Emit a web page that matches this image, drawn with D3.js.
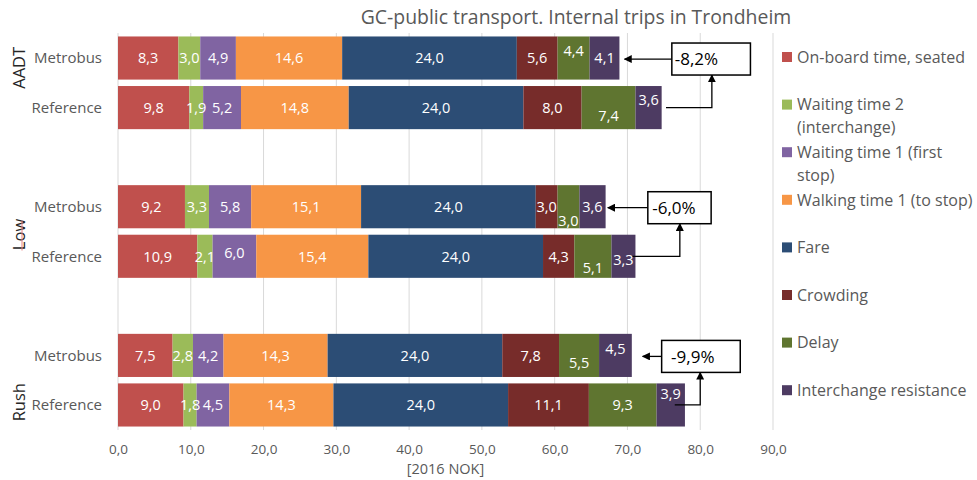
<!DOCTYPE html>
<html>
<head>
<meta charset="utf-8">
<script src="https://cdn.jsdelivr.net/npm/d3@7"></script>
<style>
  body { margin: 0; background: #fff; }
  svg { font-family: "Open Sans", Lato, sans-serif; }
</style>
</head>
<body>
<div id="chart"></div>
<script>
const width = 977;
const height = 480;

const components = [
  "On-board time, seated",
  "Waiting time 2 (interchange)",
  "Waiting time 1 (first stop)",
  "Walking time 1 (to stop)",
  "Fare",
  "Crowding",
  "Delay",
  "Interchange resistance"
];
const groups = ["AADT", "Low", "Rush"];
const scenarios = ["Metrobus", "Reference"];

const aadtMetrobus = [8.3, 3.0, 4.9, 14.6, 24.0, 5.6, 4.4, 4.1];
const aadtReference = [9.8, 1.9, 5.2, 14.8, 24.0, 8.0, 7.4, 3.6];
const lowMetrobus = [9.2, 3.3, 5.8, 15.1, 24.0, 3.0, 3.0, 3.6];
const lowReference = [10.9, 2.1, 6.0, 15.4, 24.0, 4.3, 5.1, 3.3];
const rushMetrobus = [7.5, 2.8, 4.2, 14.3, 24.0, 7.8, 5.5, 4.5];
const rushReference = [9.0, 1.8, 4.5, 14.3, 24.0, 11.1, 9.3, 3.9];

const changeLabels = ["-8,2%", "-6,0%", "-9,9%"];

const colors = ["#C0504D", "#9BBB59", "#8064A2", "#F79646", "#2C4D75", "#772C2A", "#5F7530", "#4D3B62"];
const legendLines = [
  ["On-board time, seated"],
  ["Waiting time 2", "(interchange)"],
  ["Waiting time 1 (first", "stop)"],
  ["Walking time 1 (to stop)"],
  ["Fare"],
  ["Crowding"],
  ["Delay"],
  ["Interchange resistance"]
];

const rows = [
  { group: "AADT", scenario: "Metrobus", values: aadtMetrobus },
  { group: "AADT", scenario: "Reference", values: aadtReference },
  { group: "Low", scenario: "Metrobus", values: lowMetrobus },
  { group: "Low", scenario: "Reference", values: lowReference },
  { group: "Rush", scenario: "Metrobus", values: rushMetrobus },
  { group: "Rush", scenario: "Reference", values: rushReference }
];

// excel moved some overlapping labels up or down a bit
const labelNudge = {
  "AADT|Metrobus|6": -7, "AADT|Reference|6": 8, "AADT|Reference|7": -8,
  "Low|Metrobus|6": 14, "Low|Reference|2": -4, "Low|Reference|6": 11, "Low|Reference|7": 3,
  "Rush|Metrobus|6": 7, "Rush|Metrobus|7": -7, "Rush|Reference|7": -11
};
const groupLabelShift = { AADT: -15, Low: 3, Rush: 22 };

// hand drawn callouts, in axis units
const callouts = [
  { boxX: 76.1, boxW: 10.8, textX: 76.5, tipX: 69.6, elbowX: 81.6, startX: 75.3 },
  { boxX: 72.8, boxW: 8.7, textX: 73.4, tipX: 67.3, elbowX: 77.2, startX: 70.7 },
  { boxX: 74.7, boxW: 10.8, textX: 76.0, tipX: 72.1, elbowX: 80.0, startX: 76.5 }
];

const rowKeys = [];
groups.forEach((g, i) => {
  scenarios.forEach(s => rowKeys.push(g + "|" + s));
  if (i < groups.length - 1) rowKeys.push("gap" + i);
});

const x = d3.scaleLinear().domain([0, 90]).range([118, 773]);
const y = d3.scaleBand().domain(rowKeys).range([33, 430]).paddingInner(0.13).paddingOuter(0.07);
const color = d3.scaleOrdinal().domain(components).range(colors);
const fmt = v => d3.format(".1f")(v).replace(".", ",");

const svg = d3.select("#chart").append("svg")
  .attr("width", width)
  .attr("height", height);

// grid
svg.append("g")
  .selectAll("line")
  .data(x.ticks(9))
  .join("line")
  .attr("x1", d => x(d)).attr("x2", d => x(d))
  .attr("y1", 33).attr("y2", 430)
  .attr("stroke", "#d9d9d9")
  .attr("stroke-width", 1);

const xAxis = svg.append("g")
  .attr("transform", "translate(0,430)")
  .call(d3.axisBottom(x).ticks(9).tickFormat(fmt).tickSize(0).tickPadding(14));
xAxis.select(".domain").remove();
xAxis.selectAll("text")
  .attr("fill", "#595959")
  .style("font-family", "'Open Sans', sans-serif")
  .style("font-size", "13.5px");

svg.append("text")
  .attr("x", (x(0) + x(90)) / 2)
  .attr("y", 474)
  .attr("text-anchor", "middle")
  .attr("fill", "#595959")
  .style("font-size", "14.5px")
  .text("[2016 NOK]");

svg.append("text")
  .attr("x", 576)
  .attr("y", 24)
  .attr("text-anchor", "middle")
  .attr("fill", "#595959")
  .style("font-size", "19.4px")
  .text("GC-public transport. Internal trips in Trondheim");

// stacked bars
const segs = [];
rows.forEach(r => {
  let acc = 0;
  r.values.forEach((v, i) => {
    segs.push({ row: r, key: r.group + "|" + r.scenario, i, x0: acc, x1: acc + v, v });
    acc += v;
  });
});

svg.append("g")
  .selectAll("rect")
  .data(segs)
  .join("rect")
  .attr("x", d => x(d.x0))
  .attr("y", d => y(d.key))
  .attr("width", d => x(d.x1) - x(d.x0))
  .attr("height", y.bandwidth())
  .attr("fill", d => color(components[d.i]));

svg.append("g")
  .selectAll("text")
  .data(segs)
  .join("text")
  .attr("x", d => x((d.x0 + d.x1) / 2))
  .attr("y", d => y(d.key) + y.bandwidth() / 2 + (labelNudge[d.key + "|" + d.i] || 0))
  .attr("dy", "0.36em")
  .attr("text-anchor", "middle")
  .attr("fill", "#fff")
  .style("font-size", "14.5px")
  .text(d => fmt(d.v));

// category labels
svg.append("g")
  .selectAll("text")
  .data(rows)
  .join("text")
  .attr("x", 102)
  .attr("y", d => y(d.group + "|" + d.scenario) + y.bandwidth() / 2)
  .attr("dy", "0.36em")
  .attr("text-anchor", "end")
  .attr("fill", "#595959")
  .style("font-size", "15px")
  .text(d => d.scenario);

svg.append("g")
  .selectAll("text")
  .data(groups)
  .join("text")
  .attr("transform", g => {
    const cy = (y(g + "|Metrobus") + y(g + "|Reference") + y.bandwidth()) / 2 + groupLabelShift[g];
    return `translate(25,${cy}) rotate(-90)`;
  })
  .attr("text-anchor", "middle")
  .attr("fill", "#262626")
  .style("font-size", "16.5px")
  .text(g => g);

// spell-check squiggle under "Low"
const lowY = (y("Low|Metrobus") + y("Low|Reference") + y.bandwidth()) / 2 + groupLabelShift.Low;
svg.append("line")
  .attr("x1", 22).attr("x2", 22)
  .attr("y1", lowY - 14).attr("y2", lowY + 16)
  .attr("stroke", "#e88080")
  .attr("stroke-width", 1);

// callouts
svg.append("defs").append("marker")
  .attr("id", "head")
  .attr("viewBox", "0 0 10 10")
  .attr("refX", 9).attr("refY", 5)
  .attr("markerWidth", 8).attr("markerHeight", 8)
  .attr("markerUnits", "userSpaceOnUse")
  .attr("orient", "auto")
  .append("path")
  .attr("d", "M0,0L10,5L0,10Z")
  .attr("fill", "#000");

const boxH = 32;
callouts.forEach((c, i) => {
  const g = groups[i];
  const my = y(g + "|Metrobus") + y.bandwidth() / 2 + 1;
  const ry = y(g + "|Reference") + y.bandwidth() / 2;
  const layer = svg.append("g");

  layer.append("line")
    .attr("x1", x(c.boxX)).attr("x2", x(c.tipX))
    .attr("y1", my).attr("y2", my)
    .attr("stroke", "#000").attr("stroke-width", 1.3)
    .attr("marker-end", "url(#head)");

  layer.append("path")
    .attr("d", `M${x(c.startX)},${ry}H${x(c.elbowX)}V${my + boxH / 2}`)
    .attr("fill", "none")
    .attr("stroke", "#000").attr("stroke-width", 1.3)
    .attr("marker-end", "url(#head)");

  layer.append("rect")
    .attr("x", x(c.boxX)).attr("y", my - boxH / 2)
    .attr("width", x(c.boxX + c.boxW) - x(c.boxX)).attr("height", boxH)
    .attr("fill", "#fff")
    .attr("stroke", "#000").attr("stroke-width", 1.5);

  layer.append("text")
    .attr("x", x(c.textX)).attr("y", my)
    .attr("dy", "0.36em")
    .attr("fill", "#000")
    .style("font-size", "17px")
    .text(changeLabels[i]);
});

// legend
const legend = svg.append("g")
  .selectAll("g")
  .data(components)
  .join("g")
  .attr("transform", (d, i) => `translate(782,${57 + i * 47.6})`);

legend.append("rect")
  .attr("x", 0).attr("y", -5)
  .attr("width", 10).attr("height", 10)
  .attr("fill", d => color(d));

legend.append("text")
  .attr("x", 15)
  .attr("fill", "#595959")
  .style("font-size", "16px")
  .selectAll("tspan")
  .data((d, i) => legendLines[i])
  .join("tspan")
  .attr("x", 15)
  .attr("y", (d, j) => j * 23)
  .attr("dy", "0.36em")
  .text(d => d);
</script>
</body>
</html>
